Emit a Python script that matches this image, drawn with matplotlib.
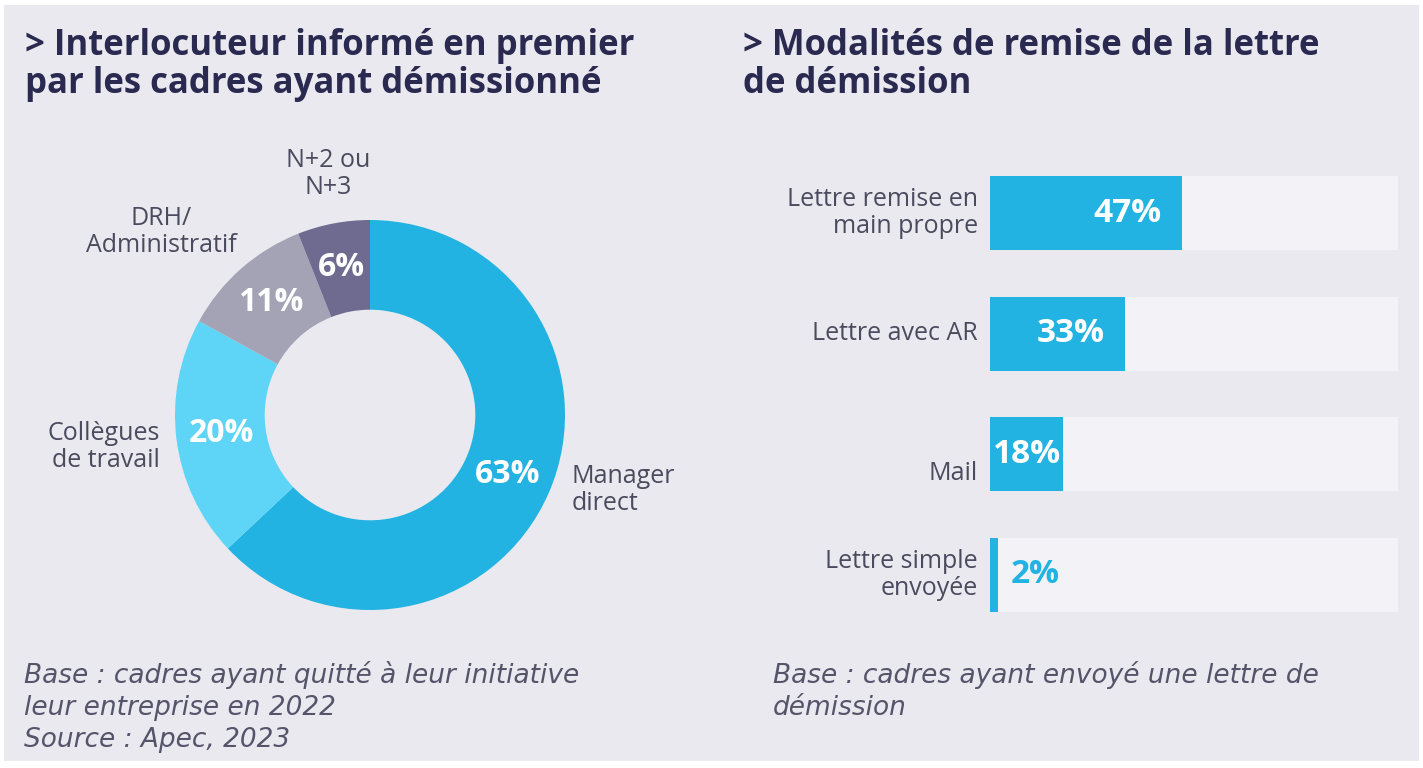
import matplotlib
matplotlib.use("Agg")
import matplotlib.pyplot as plt

plt.rcParams['font.family'] = ['Open Sans', 'DejaVu Sans']

# donut data
donut_labels = ["Manager\ndirect", "Collègues\nde travail", "DRH/\nAdministratif", "N+2 ou\nN+3"]
donut_values = [63, 20, 11, 6]
donut_colors = ["#22b3e2", "#5ed5f6", "#a4a2b5", "#6f6b90"]

# bar data
bar_labels = ["Lettre remise en\nmain propre", "Lettre avec AR", "Mail", "Lettre simple\nenvoyée"]
bar_values = [47, 33, 18, 2]

title_left = "> Interlocuteur informé en premier\npar les cadres ayant démissionné"
title_right = "> Modalités de remise de la lettre\nde démission"
note_left = "Base : cadres ayant quitté à leur initiative\nleur entreprise en 2022\nSource : Apec, 2023"
note_right = "Base : cadres ayant envoyé une lettre de\ndémission"

W, H = 1423, 768
BG = "#e9e9ef"
TRACK = "#f3f3f7"
BLUE = "#22b3e2"
NAVY = "#2a2950"
GREY = "#4b4a5e"

fig = plt.figure(figsize=(W / 100, H / 100), dpi=100)
fig.patch.set_facecolor("white")


def px(x, y):
    return x / W, 1 - y / H


def box(x0, y0, x1, y1):
    return [x0 / W, 1 - y1 / H, (x1 - x0) / W, (y1 - y0) / H]


# grey panel
panel = fig.add_axes(box(4, 5, 1419, 761))
panel.set_facecolor(BG)
panel.set_xticks([])
panel.set_yticks([])
for s in panel.spines.values():
    s.set_visible(False)
panel.set_zorder(-1)

# titles
fig.text(*px(25, 93), title_left, fontsize=25, fontweight="bold", color=NAVY,
         va="baseline", ha="left", linespacing=1.08)
fig.text(*px(743, 93), title_right, fontsize=25, fontweight="bold", color=NAVY,
         va="baseline", ha="left", linespacing=1.08)

# donut
ax = fig.add_axes(box(175, 220, 565, 610))
wedges, _, autotexts = ax.pie(donut_values, colors=donut_colors, startangle=90,
                              counterclock=False, radius=1,
                              wedgeprops=dict(width=0.46, linewidth=0),
                              autopct=lambda p: f"{p:.0f}%", pctdistance=0.77,
                              textprops=dict(color="white", fontsize=23, fontweight="bold"))
ax.set_xlim(-1, 1)
ax.set_ylim(-1, 1)
ax.set_aspect("equal")
ax.axis("off")

label_pos = [(572, 490, "left"), (160, 447, "right"), (161, 232, "center"), (328, 174, "center")]
for lab, (x, y, ha) in zip(donut_labels, label_pos):
    fig.text(*px(x, y), lab, fontsize=18, color=GREY, ha=ha, va="center",
             multialignment=ha, linespacing=1.15)

# bars
bx = fig.add_axes(box(990, 152.7, 1398, 635.3))
ypos = range(len(bar_values))
bx.barh(ypos, [100] * len(bar_values), height=0.615, color=TRACK, linewidth=0)
bx.barh(ypos, bar_values, height=0.615, color=BLUE, linewidth=0)
bx.set_xlim(0, 100)
bx.set_ylim(3.5, -0.5)
bx.axis("off")
label_shift = [0, 0, 0.16, 0]
for i, (v, lab) in enumerate(zip(bar_values, bar_labels)):
    if v > 25:
        bx.text(v - 5, i, f"{v}%", ha="right", va="center", color="white",
                fontsize=24, fontweight="bold")
    elif v > 10:
        bx.text(v / 2, i, f"{v}%", ha="center", va="center", color="white",
                fontsize=24, fontweight="bold")
    else:
        bx.text(v + 3, i, f"{v}%", ha="left", va="center", color=BLUE,
                fontsize=24, fontweight="bold")
    bx.text(-3, i + label_shift[i], lab, ha="right", va="center", color=GREY,
            fontsize=18, linespacing=1.1, clip_on=False)

# footnotes
note_font = dict(fontsize=19, style="italic", color="#55546a", va="top", ha="left",
                 linespacing=1.3, family=["DejaVu Sans"])
fig.text(*px(24, 661), note_left, **note_font)
fig.text(*px(773, 661), note_right, **note_font)

fig.savefig("out.png", dpi=100, facecolor=fig.get_facecolor())
